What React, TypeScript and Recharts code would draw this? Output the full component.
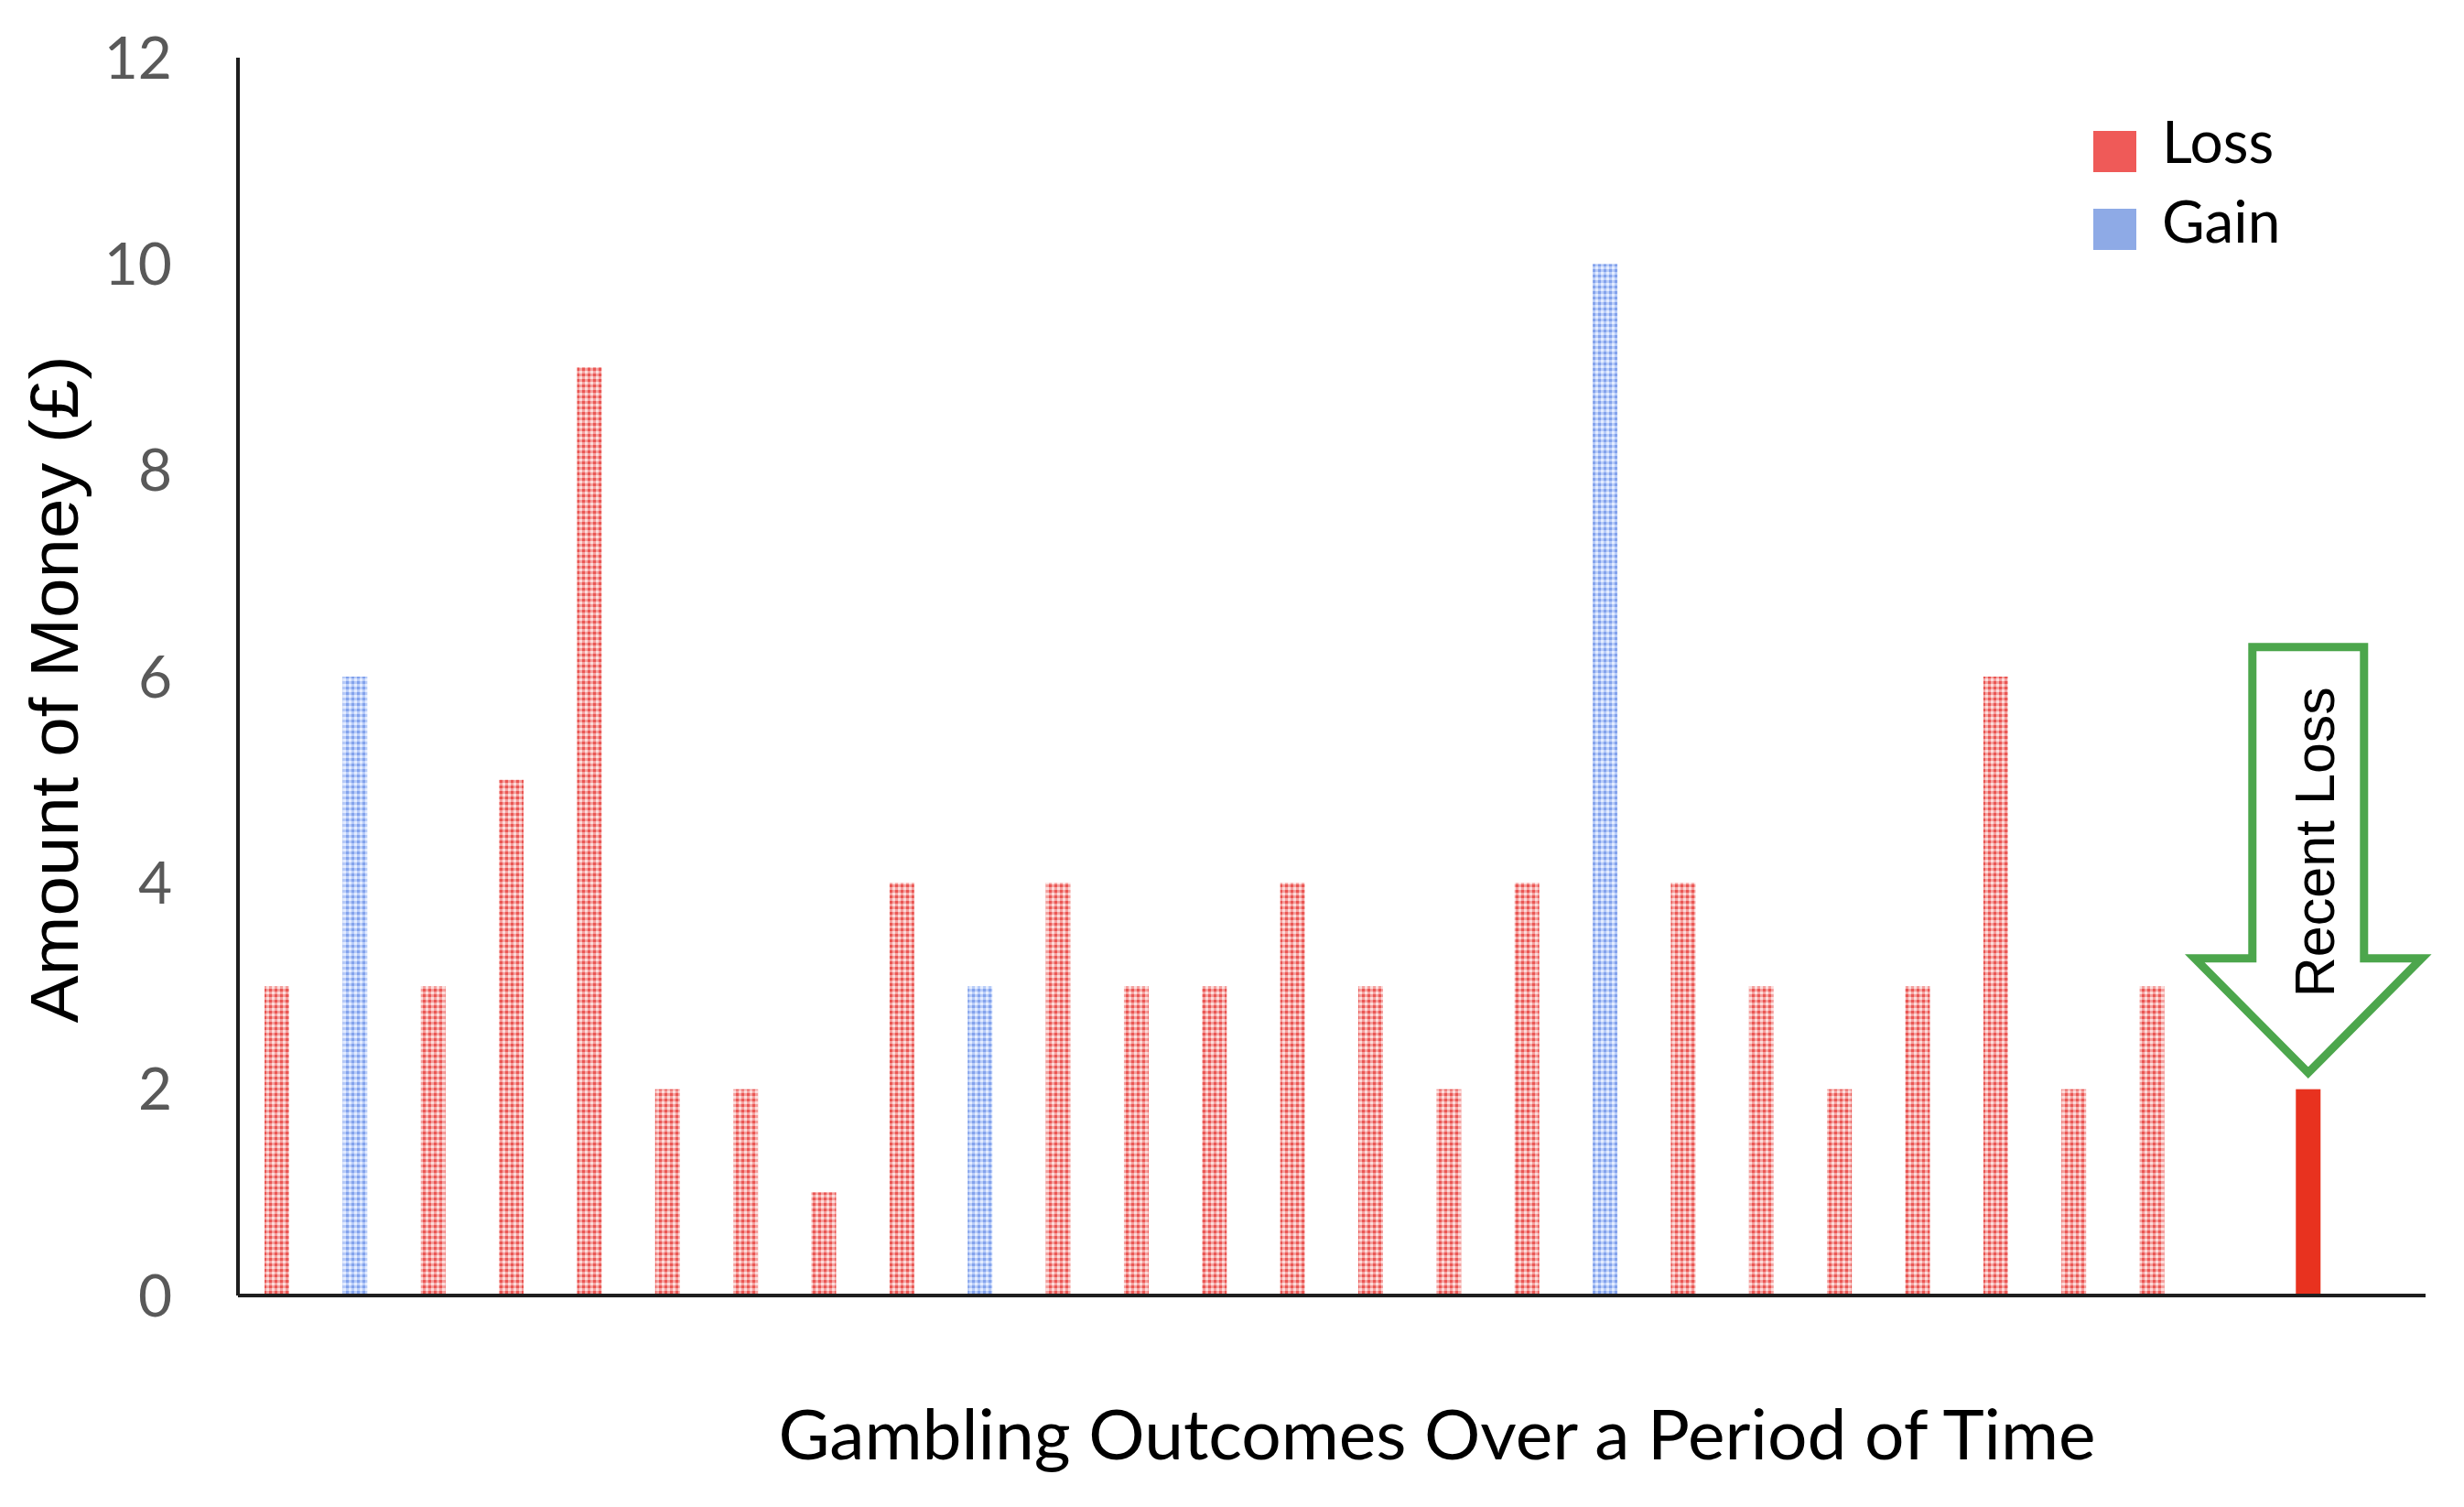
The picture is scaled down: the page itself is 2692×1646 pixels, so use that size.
import React from 'react';
import { BarChart, Bar, XAxis, YAxis, Cell, Legend, Label } from 'recharts';

// one entry per betting round, left to right
const outcomes = [
  '1', '2', '3', '4', '5', '6', '7', '8', '9', '10', '11', '12', '13', '14',
  '15', '16', '17', '18', '19', '20', '21', '22', '23', '24', '25', '26', '27', '28',
];
const amounts = [
  3, 6, 3, 5, 9, 2, 2, 1, 4, 3, 4, 3, 3, 4,
  3, 2, 4, 10, 4, 3, 2, 3, 6, 2, 3, null, 2, null,
];
const kinds = [
  'loss', 'gain', 'loss', 'loss', 'loss', 'loss', 'loss', 'loss', 'loss', 'gain', 'loss', 'loss', 'loss', 'loss',
  'loss', 'loss', 'loss', 'gain', 'loss', 'loss', 'loss', 'loss', 'loss', 'loss', 'loss', 'none', 'recent', 'none',
];
const yTicks = [0, 2, 4, 6, 8, 10, 12];
const legendItems = [
  { label: 'Loss', color: '#ef5a58' },
  { label: 'Gain', color: '#8eaae6' },
];

const chartData = outcomes.map((name, i) => ({ name, amount: amounts[i], kind: kinds[i] }));

const FILLS: Record<string, string> = {
  loss: 'url(#lossChecker)',
  gain: 'url(#gainChecker)',
  recent: '#e8321f',
  none: 'none',
};

const CALIBRI = 'Lato, "Open Sans", sans-serif';
const ARIAL = '"Liberation Sans", Arial, sans-serif';

function RecentArrow({ cx, barTop }: { cx: number; barTop: number }) {
  const tip = barTop - 18;
  const headY = tip - 125;
  const top = tip - 465;
  const points = [
    [cx - 61, top],
    [cx + 61, top],
    [cx + 61, headY],
    [cx + 124, headY],
    [cx, tip],
    [cx - 124, headY],
    [cx - 61, headY],
  ]
    .map((p) => p.join(','))
    .join(' ');
  const tx = cx + 28;
  const ty = tip - 252;
  return (
    <g>
      <polygon points={points} fill="#ffffff" stroke="#4ca64c" strokeWidth={9} strokeLinejoin="miter" />
      <text
        x={tx}
        y={ty}
        transform={`rotate(-90, ${tx}, ${ty})`}
        textAnchor="middle"
        fontFamily={ARIAL}
        fontSize={61}
        fill="#000"
        textLength={339}
        lengthAdjust="spacingAndGlyphs"
      >
        Recent Loss
      </text>
    </g>
  );
}

function OutcomeBar(props: any) {
  const { x, y, width, height, fill, payload } = props;
  if (!height) return null;
  return (
    <g>
      <rect x={x} y={y} width={width} height={height} fill={fill} />
      {payload && payload.kind === 'recent' && (
        <RecentArrow cx={Number(x) + Number(width) / 2} barTop={Number(y)} />
      )}
    </g>
  );
}

function YTitle(props: any) {
  const vb = props.viewBox || {};
  const tx = 85;
  const ty = Number(vb.y) + Number(vb.height) / 2 + 14;
  return (
    <text
      x={tx}
      y={ty}
      transform={`rotate(-90, ${tx}, ${ty})`}
      textAnchor="middle"
      fontFamily={ARIAL}
      fontSize={74}
      fill="#000"
      textLength={729}
      lengthAdjust="spacingAndGlyphs"
    >
      Amount of Money (£)
    </text>
  );
}

function XTitle(props: any) {
  const vb = props.viewBox || {};
  const tx = Number(vb.x) + Number(vb.width) / 2 + 115;
  const ty = Number(vb.y) + 179;
  return (
    <text
      x={tx}
      y={ty}
      textAnchor="middle"
      fontFamily={CALIBRI}
      fontSize={76}
      fill="#000"
      textLength={1439}
      lengthAdjust="spacingAndGlyphs"
    >
      Gambling Outcomes Over a Period of Time
    </text>
  );
}

function LegendBox() {
  return (
    <svg width={260} height={220}>
      {legendItems.map((item, i) => (
        <g key={item.label}>
          <rect x={0} y={43 + i * 85} width={47} height={45} fill={item.color} />
          <text x={75} y={78 + i * 87} fontFamily={CALIBRI} fontSize={64} fill="#000">
            {item.label}
          </text>
        </g>
      ))}
    </svg>
  );
}

export default function App() {
  return (
    <div style={{ position: 'absolute', left: 0, top: 0, width: 2692, height: 1646, background: '#fff' }}>
      <BarChart
        width={2692}
        height={1646}
        data={chartData}
        margin={{ top: 63, right: 42, left: 0, bottom: 0 }}
        barCategoryGap={0}
      >
        <defs>
          <pattern id="lossChecker" width={6} height={6} patternUnits="userSpaceOnUse">
            <rect width={6} height={6} fill="#f4a09e" />
            <rect x={0} y={0} width={3} height={3} fill="#ea5754" />
            <rect x={3} y={3} width={3} height={3} fill="#fcdcdb" />
          </pattern>
          <pattern id="gainChecker" width={6} height={6} patternUnits="userSpaceOnUse">
            <rect width={6} height={6} fill="#b8ccf8" />
            <rect x={0} y={0} width={3} height={3} fill="#83a2ec" />
            <rect x={3} y={3} width={3} height={3} fill="#e4ecff" />
          </pattern>
        </defs>
        <XAxis
          dataKey="name"
          type="category"
          height={231}
          tick={false}
          tickLine={false}
          axisLine={{ stroke: '#1e1e1e', strokeWidth: 4 }}
        >
          <Label content={XTitle} />
        </XAxis>
        <YAxis
          width={260}
          domain={[0, 12]}
          ticks={yTicks}
          interval={0}
          tickLine={false}
          axisLine={{ stroke: '#1e1e1e', strokeWidth: 4 }}
          tickMargin={66}
          tick={{ fill: '#595959', fontSize: 64, fontFamily: CALIBRI }}
        >
          <Label content={YTitle} />
        </YAxis>
        <Legend
          layout="horizontal"
          verticalAlign="middle"
          align="center"
          wrapperStyle={{ left: 2287, top: 100, width: 260, height: 220 }}
          content={LegendBox}
        />
        <Bar dataKey="amount" barSize={27} isAnimationActive={false} shape={OutcomeBar}>
          {chartData.map((d, i) => (
            <Cell key={i} fill={FILLS[d.kind]} />
          ))}
        </Bar>
      </BarChart>
    </div>
  );
}
